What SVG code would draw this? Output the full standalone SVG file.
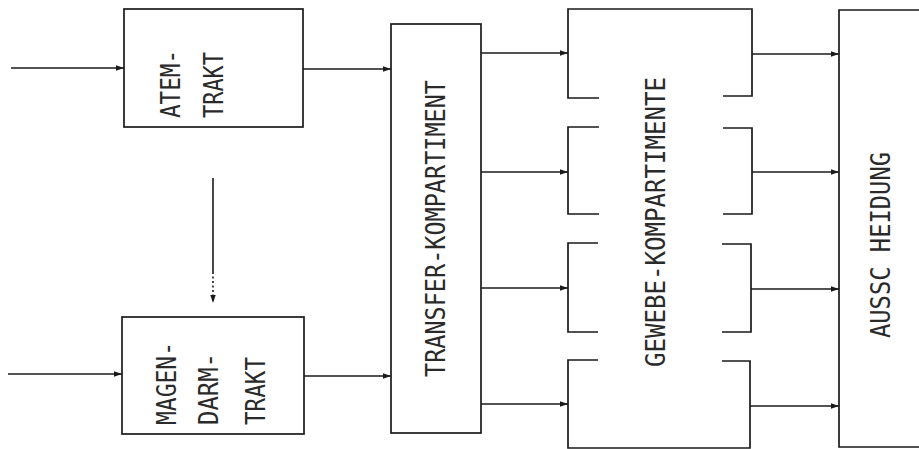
<svg xmlns="http://www.w3.org/2000/svg" width="919" height="449" viewBox="0 0 919 449">
<defs>
<marker id="ah" markerUnits="userSpaceOnUse" markerWidth="9" markerHeight="7" refX="8" refY="3.5" orient="auto">
<path d="M0,0.8 L8,3.5 L0,6.2 Z" fill="#1a1a1a"/>
</marker>
</defs>
<style>
.box{fill:none;stroke:#1a1a1a;stroke-width:1.7;stroke-linejoin:miter}
.con{fill:none;stroke:#1a1a1a;stroke-width:1.6}
.dot{fill:none;stroke:#1a1a1a;stroke-width:1.6;stroke-dasharray:2 2.5}
.lbl{font-family:"DejaVu Sans Mono","Liberation Mono",monospace;font-size:26px;fill:#2a2a2a}
</style>
<rect width="919" height="449" fill="#ffffff"/>

<g id="atem-trakt">
<rect class="box" x="124" y="9" width="179" height="118"/>
<text class="lbl" transform="translate(180,118) rotate(-90)" textLength="68" lengthAdjust="spacingAndGlyphs">ATEM-</text>
<text class="lbl" transform="translate(223,118) rotate(-90)" textLength="66" lengthAdjust="spacingAndGlyphs">TRAKT</text>
</g>

<g id="magen-darm-trakt">
<rect class="box" x="122" y="317" width="182" height="117"/>
<text class="lbl" transform="translate(176,425) rotate(-90)" textLength="83" lengthAdjust="spacingAndGlyphs">MAGEN-</text>
<text class="lbl" transform="translate(218,425) rotate(-90)" textLength="72" lengthAdjust="spacingAndGlyphs">DARM-</text>
<text class="lbl" transform="translate(265,425) rotate(-90)" textLength="68" lengthAdjust="spacingAndGlyphs">TRAKT</text>
</g>

<g id="transfer-kompartiment">
<rect class="box" x="391" y="24" width="90" height="409"/>
<text class="lbl" transform="translate(445,377) rotate(-90)" textLength="297" lengthAdjust="spacingAndGlyphs">TRANSFER-KOMPARTIMENT</text>
</g>

<g id="gewebe-kompartimente">
<path class="box" d="M599,98 H568 V9 H752 V96 H723"/>
<path class="box" d="M599,127 H568 V214 H599"/>
<path class="box" d="M598,243 H568 V332 H598"/>
<path class="box" d="M598,360 H568 V448 H750 V361 H722"/>
<path class="box" d="M723,128 H752 V214 H723"/>
<path class="box" d="M722,244 H751 V332 H722"/>
<text class="lbl" transform="translate(665,367) rotate(-90)" textLength="290" lengthAdjust="spacingAndGlyphs">GEWEBE-KOMPARTIMENTE</text>
</g>

<g id="ausscheidung">
<path class="box" d="M919,10 H839 V447 H919"/>
<text class="lbl" transform="translate(890,338) rotate(-90)" textLength="186" lengthAdjust="spacingAndGlyphs">AUSSC HEIDUNG</text>
</g>

<g id="connectors">
<path class="con" d="M11,68 H124" marker-end="url(#ah)"/>
<path class="con" d="M8,374 H122" marker-end="url(#ah)"/>
<path class="con" d="M303,69 H391" marker-end="url(#ah)"/>
<path class="con" d="M304,376 H391" marker-end="url(#ah)"/>
<path class="con" d="M213,178 V272"/>
<path class="dot" d="M213,272 V303" marker-end="url(#ah)"/>
<path class="con" d="M481,53 H568" marker-end="url(#ah)"/>
<path class="con" d="M481,172 H568" marker-end="url(#ah)"/>
<path class="con" d="M481,288 H568" marker-end="url(#ah)"/>
<path class="con" d="M481,404 H568" marker-end="url(#ah)"/>
<path class="con" d="M752,54 H839" marker-end="url(#ah)"/>
<path class="con" d="M752,172 H839" marker-end="url(#ah)"/>
<path class="con" d="M751,289 H839" marker-end="url(#ah)"/>
<path class="con" d="M750,406 H839" marker-end="url(#ah)"/>
</g>
</svg>
